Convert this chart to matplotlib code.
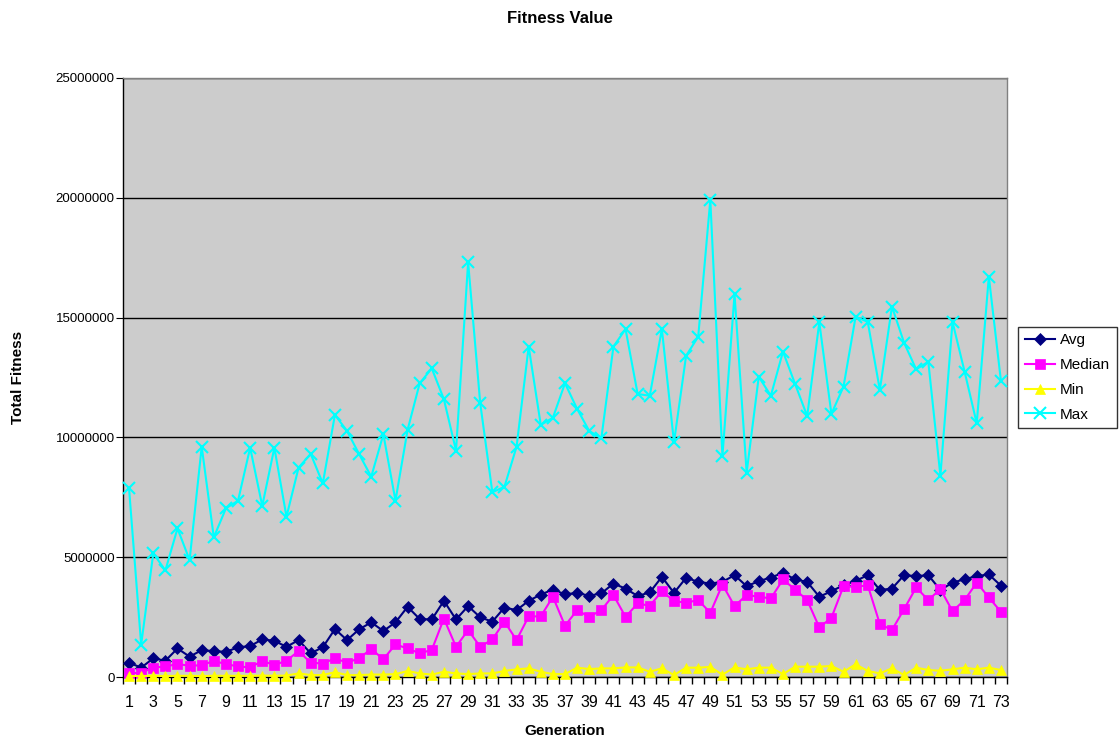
import matplotlib
matplotlib.use("Agg")
import matplotlib.pyplot as plt
from matplotlib.ticker import FixedLocator, FuncFormatter

plt.rcParams['font.family'] = ['Liberation Sans', 'DejaVu Sans']

generations = list(range(1, 74))

avg = [0.60, 0.39, 0.78, 0.68, 1.19, 0.85, 1.12, 1.08, 1.05, 1.24,
       1.29, 1.57, 1.51, 1.26, 1.54, 0.99, 1.24, 2.00, 1.54, 1.99,
       2.28, 1.92, 2.28, 2.93, 2.42, 2.40, 3.18, 2.40, 2.96, 2.49,
       2.31, 2.90, 2.79, 3.18, 3.44, 3.65, 3.45, 3.51, 3.39, 3.49,
       3.90, 3.69, 3.38, 3.53, 4.18, 3.51, 4.14, 3.97, 3.90, 3.97,
       4.25, 3.79, 4.00, 4.15, 4.35, 4.07, 3.97, 3.35, 3.58, 3.83,
       4.01, 4.25, 3.63, 3.69, 4.25, 4.21, 4.25, 3.63, 3.94, 4.08,
       4.21, 4.28, 3.81]

median = [0.15, 0.18, 0.39, 0.44, 0.54, 0.47, 0.49, 0.67, 0.54, 0.44,
          0.40, 0.67, 0.50, 0.68, 1.08, 0.60, 0.56, 0.78, 0.60, 0.78,
          1.17, 0.74, 1.36, 1.19, 0.99, 1.13, 2.44, 1.26, 1.96, 1.26,
          1.57, 2.31, 1.54, 2.53, 2.53, 3.35, 2.14, 2.79, 2.51, 2.79,
          3.42, 2.51, 3.07, 2.97, 3.58, 3.17, 3.10, 3.21, 2.68, 3.86,
          2.96, 3.42, 3.35, 3.28, 4.07, 3.65, 3.21, 2.07, 2.47, 3.79,
          3.76, 3.83, 2.21, 1.96, 2.83, 3.74, 3.21, 3.67, 2.75, 3.21,
          3.94, 3.32, 2.72]

minimum = [0.04, 0.04, 0.05, 0.04, 0.05, 0.05, 0.04, 0.05, 0.05, 0.05,
           0.05, 0.06, 0.05, 0.06, 0.15, 0.08, 0.08, 0.20, 0.08, 0.08,
           0.10, 0.10, 0.12, 0.25, 0.15, 0.10, 0.22, 0.15, 0.12, 0.15,
           0.15, 0.25, 0.32, 0.36, 0.22, 0.12, 0.12, 0.39, 0.33, 0.36,
           0.36, 0.40, 0.40, 0.22, 0.36, 0.08, 0.39, 0.39, 0.42, 0.10,
           0.40, 0.32, 0.39, 0.39, 0.12, 0.43, 0.43, 0.43, 0.46, 0.22,
           0.53, 0.25, 0.15, 0.36, 0.08, 0.39, 0.29, 0.26, 0.32, 0.39,
           0.32, 0.39, 0.29]

maximum = [7.87, 1.35, 5.16, 4.45, 6.20, 4.88, 9.61, 5.83, 7.04, 7.36,
           9.57, 7.14, 9.57, 6.69, 8.74, 9.31, 8.08, 10.94, 10.27, 9.30,
           8.36, 10.13, 7.36, 10.31, 12.26, 12.88, 11.59, 9.45, 17.31, 11.42,
           7.71, 7.94, 9.61, 13.79, 10.52, 10.82, 12.26, 11.19, 10.27, 9.96,
           13.79, 14.52, 11.81, 11.74, 14.52, 9.79, 13.41, 14.20, 19.91, 9.22,
           15.97, 8.53, 12.53, 11.74, 13.58, 12.23, 10.89, 14.80, 10.98, 12.12,
           15.04, 14.82, 11.98, 15.46, 13.95, 12.84, 13.16, 8.40, 14.82, 12.74,
           10.59, 16.71, 12.35]

# values above are in millions
scale = 1e6
series = [
    ('Avg', avg, '#000080', 'D', 6),
    ('Median', median, '#FF00FF', 's', 7),
    ('Min', minimum, '#FFFF00', '^', 7),
    ('Max', maximum, '#00FFFF', 'x', 8),
]

fig = plt.figure(figsize=(11.19, 7.38), dpi=100)
ax = fig.add_axes([123/1119, 1 - 677/738, 884/1119, 599/738])
ax.set_facecolor('#CCCCCC')

for name, vals, color, marker, ms in series:
    ax.plot(generations, [v * scale for v in vals], color=color, marker=marker,
            markersize=ms, linewidth=1.5, markeredgewidth=1.5 if marker == 'x' else 0.5,
            markeredgecolor=color, label=name, clip_on=False, zorder=3)

ax.set_xlim(0.5, 73.5)
ax.set_ylim(0, 25e6)

ax.yaxis.set_major_locator(FixedLocator([0, 5e6, 10e6, 15e6, 20e6, 25e6]))
ax.yaxis.set_major_formatter(FuncFormatter(lambda v, p: '%d' % v))
ax.yaxis.grid(True, color='black', linewidth=1)
ax.set_axisbelow(True)

# labels on odd generations, tick marks between categories
ax.set_xticks(list(range(1, 74, 2)))
ax.set_xticks([g - 0.5 for g in range(1, 75)], minor=True)
ax.tick_params(axis='x', which='major', length=0, pad=13, labelsize=11.5)
ax.tick_params(axis='x', which='minor', length=5, direction='out', width=1)
ax.tick_params(axis='y', length=5, direction='out', labelsize=9.5, pad=1)

for side in ['left', 'bottom']:
    ax.spines[side].set_color('black')
    ax.spines[side].set_linewidth(1)
for side in ['top', 'right']:
    ax.spines[side].set_color('#808080')
    ax.spines[side].set_linewidth(1)

ax.set_xlabel('Generation', fontsize=11, fontweight='bold', labelpad=10)
ax.set_ylabel('Total Fitness', fontsize=11, fontweight='bold', labelpad=22)
fig.suptitle('Fitness Value', fontsize=12, fontweight='bold', y=0.985, x=0.5)

leg = ax.legend(loc='center left', bbox_to_anchor=((1018 - 123) / 884, 0.5),
                borderaxespad=0, frameon=True, fancybox=False, edgecolor='black',
                fontsize=11, borderpad=0.45, labelspacing=0.7, handlelength=2.0,
                handletextpad=0.3)
leg.get_frame().set_linewidth(1)

fig.savefig('out.png', dpi=100)
